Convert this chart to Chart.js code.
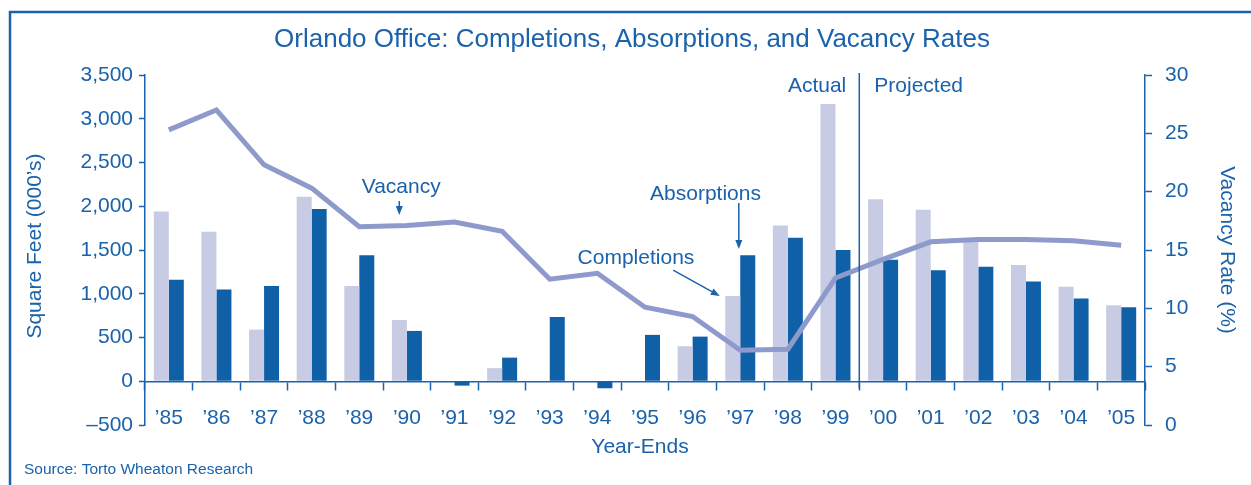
<!doctype html>
<html lang="en">

<head>
    <meta charset="utf-8">
    <title>Orlando Office: Completions, Absorptions, and Vacancy Rates</title>
    <style>
        * {
            margin: 0;
            padding: 0;
        }

        body {
            background: white;
        }

        .chartBox {
            width: 1251px;
            height: 485px;
        }
    </style>
</head>

<body>
    <div class="chartBox">
        <canvas id="myChart" width="1251" height="485"></canvas>
    </div>
    <script src="https://cdn.jsdelivr.net/npm/chart.js/dist/chart.umd.min.js"></script>
    <script>
        // data
        const years = ['\u201985', '\u201986', '\u201987', '\u201988', '\u201989', '\u201990', '\u201991',
            '\u201992', '\u201993', '\u201994', '\u201995', '\u201996', '\u201997', '\u201998', '\u201999',
            '\u201900', '\u201901', '\u201902', '\u201903', '\u201904', '\u201905'];
        const completions = [1940, 1710, 590, 2110, 1090, 700, 0, 150, 0, 0, 0, 400, 975, 1780, 3170,
            2080, 1960, 1620, 1330, 1080, 870];
        const absorptions = [1160, 1050, 1090, 1970, 1440, 575, -50, 270, 735, -80, 530, 510, 1440, 1640, 1500,
            1390, 1270, 1310, 1140, 945, 845];
        const vacancy = [25.3, 27.0, 22.3, 20.3, 17.0, 17.1, 17.4, 16.6, 12.5, 13.0, 10.1, 9.3, 6.4, 6.5, 12.6,
            14.2, 15.7, 15.9, 15.9, 15.8, 15.4];
        const sqftTicks = [-500, 0, 500, 1000, 1500, 2000, 2500, 3000, 3500];
        const rateTicks = [0, 5, 10, 15, 20, 25, 30];

        const BLUE = '#1a62ab';
        const FONT = "'Liberation Sans', Arial, sans-serif";

        const data = {
            labels: years,
            datasets: [{
                label: 'Completions',
                data: completions,
                backgroundColor: '#c8cbe4',
                yAxisID: 'y',
                order: 1,
                categoryPercentage: 0.63,
                barPercentage: 1.0
            }, {
                label: 'Absorptions',
                data: absorptions,
                backgroundColor: '#1060a8',
                yAxisID: 'y',
                order: 1,
                categoryPercentage: 0.63,
                barPercentage: 1.0
            }, {
                type: 'line',
                label: 'Vacancy',
                data: vacancy,
                borderColor: '#8e9acb',
                borderWidth: 5,
                pointRadius: 0,
                tension: 0,
                borderJoinStyle: 'miter',
                yAxisID: 'y1',
                order: 0
            }]
        };

        function arrow(ctx, x1, y1, x2, y2) {
            const ang = Math.atan2(y2 - y1, x2 - x1);
            const head = 9, half = 3.5;
            const bx = x2 - head * Math.cos(ang), by = y2 - head * Math.sin(ang);
            ctx.beginPath();
            ctx.moveTo(x1, y1);
            ctx.lineTo(bx, by);
            ctx.stroke();
            ctx.beginPath();
            ctx.moveTo(x2, y2);
            ctx.lineTo(bx + half * Math.sin(ang), by - half * Math.cos(ang));
            ctx.lineTo(bx - half * Math.sin(ang), by + half * Math.cos(ang));
            ctx.closePath();
            ctx.fill();
        }

        // frame, titles, notes
        const decorations = {
            id: 'decorations',
            afterDraw(chart) {
                const { ctx, chartArea: { top, bottom, left, right }, scales: { x, y } } = chart;
                const X = i => x.getPixelForValue(i);
                const Y = v => y.getPixelForValue(v);
                ctx.save();
                ctx.strokeStyle = BLUE;
                ctx.fillStyle = BLUE;

                // frame
                ctx.lineWidth = 2.5;
                ctx.strokeRect(10, 12, 1400, 600);

                // title
                ctx.textAlign = 'center';
                ctx.textBaseline = 'alphabetic';
                ctx.font = `26px ${FONT}`;
                ctx.fillText('Orlando Office: Completions, Absorptions, and Vacancy Rates', 632, 47);

                // axis titles
                ctx.font = `21px ${FONT}`;
                ctx.fillText('Year-Ends', (left + right) / 2 - 5, 453);
                ctx.save();
                ctx.translate(41, (top + bottom) / 2 - 4);
                ctx.rotate(-Math.PI / 2);
                ctx.fillText('Square Feet (000\u2019s)', 0, 0);
                ctx.restore();
                ctx.save();
                ctx.translate(1221, (top + bottom) / 2);
                ctx.rotate(Math.PI / 2);
                ctx.fillText('Vacancy Rate (%)', 0, 0);
                ctx.restore();

                // source
                ctx.textAlign = 'left';
                ctx.font = `15.5px ${FONT}`;
                ctx.fillText('Source: Torto Wheaton Research', 24, 474);

                // actual / projected divider
                const divX = (X(14) + X(15)) / 2;
                ctx.lineWidth = 1.5;
                ctx.beginPath();
                ctx.moveTo(divX, Y(3523));
                ctx.lineTo(divX, Y(0) + 7);
                ctx.stroke();
                ctx.font = `21px ${FONT}`;
                ctx.textAlign = 'right';
                ctx.fillText('Actual', divX - 13, Y(3306));
                ctx.textAlign = 'left';
                ctx.fillText('Projected', divX + 15, Y(3306));

                // series notes
                ctx.textAlign = 'center';
                ctx.fillText('Vacancy', X(4.88), Y(2150));
                ctx.fillText('Absorptions', X(11.27), Y(2071));
                ctx.fillText('Completions', X(9.81), Y(1340));
                ctx.lineWidth = 1.5;
                arrow(ctx, X(4.84), Y(2060), X(4.84), Y(1900));
                arrow(ctx, X(11.97), Y(2037), X(11.97), Y(1511));
                arrow(ctx, X(10.59), Y(1271), X(11.57), Y(974));
                ctx.restore();
            }
        };

        const axisBorder = { display: true, color: BLUE, width: 1.5 };

        // config
        const config = {
            type: 'bar',
            data,
            options: {
                responsive: false,
                animation: false,
                devicePixelRatio: 1,
                layout: {
                    padding: { top: 75, bottom: 60, left: 0, right: 0 }
                },
                plugins: {
                    legend: { display: false },
                    tooltip: { enabled: false }
                },
                scales: {
                    x: {
                        position: { y: 0 },
                        offset: true,
                        border: axisBorder,
                        grid: {
                            offset: true,
                            drawOnChartArea: false,
                            drawTicks: true,
                            tickLength: 8,
                            tickWidth: 1.5,
                            color: BLUE
                        },
                        ticks: {
                            color: BLUE,
                            font: { family: FONT, size: 21 },
                            padding: 16,
                            maxRotation: 0,
                            autoSkip: false
                        }
                    },
                    y: {
                        position: 'left',
                        min: -500,
                        max: 3500,
                        afterFit(scale) { scale.width = 145; },
                        afterBuildTicks(scale) { scale.ticks = sqftTicks.map(v => ({ value: v })); },
                        border: axisBorder,
                        grid: {
                            drawOnChartArea: false,
                            drawTicks: true,
                            tickLength: 6,
                            tickWidth: 1.5,
                            color: BLUE
                        },
                        ticks: {
                            color: BLUE,
                            font: { family: FONT, size: 21 },
                            padding: 6,
                            callback: v => (v < 0 ? '\u2013' : '') + Math.abs(v).toLocaleString('en-US')
                        }
                    },
                    y1: {
                        position: 'right',
                        min: 0,
                        max: 30,
                        afterFit(scale) { scale.width = 106; },
                        afterBuildTicks(scale) { scale.ticks = rateTicks.map(v => ({ value: v })); },
                        border: axisBorder,
                        grid: {
                            drawOnChartArea: false,
                            drawTicks: true,
                            tickLength: 7,
                            tickWidth: 1.5,
                            color: BLUE
                        },
                        ticks: {
                            color: BLUE,
                            font: { family: FONT, size: 21 },
                            padding: 13
                        }
                    }
                }
            },
            plugins: [decorations]
        };

        // render init block
        const myChart = new Chart(
            document.getElementById('myChart'),
            config
        );
    </script>

</body>

</html>
